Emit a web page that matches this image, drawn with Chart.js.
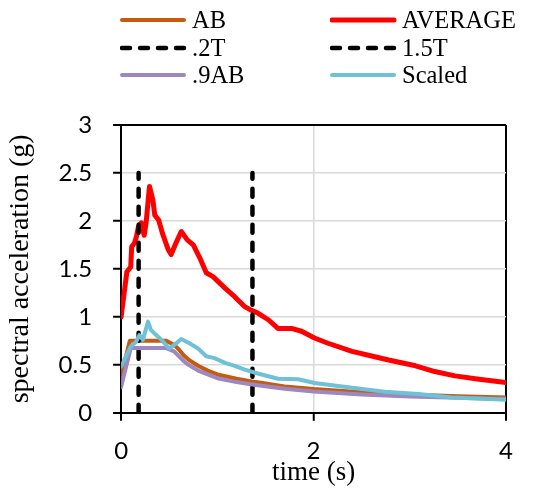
<!DOCTYPE html>
<html>
<head>
<meta charset="utf-8">
<script src="https://cdn.jsdelivr.net/npm/chart.js@4"></script>
<style>
  html, body { margin: 0; padding: 0; background: #fff; }
  #wrap { position: relative; width: 554px; height: 489px; }
  #surveyChart { position: absolute; left: 0; top: 0; }
  .leg { position: absolute; font-family: "Liberation Serif", serif; font-size: 24.5px; color: #000; line-height: 26px; white-space: nowrap; }
  .leg svg { position: absolute; left: 0; top: 0; }
  .leg span { position: absolute; top: 0; }
</style>
</head>
<body>
<div id="wrap">
  <canvas id="surveyChart" width="554" height="489"></canvas>
  <div id="legend"></div>
</div>
<script>
// periods (s) and spectral accelerations (g)
const abT = [0, 0.09, 0.47, 0.55, 0.6, 0.65, 0.7, 0.8, 0.9, 1.0, 1.2, 1.4, 1.7, 2.0, 2.5, 3.0, 3.5, 4.0];
const abSa = [0.38, 0.75, 0.75, 0.71, 0.66, 0.60, 0.555, 0.49, 0.44, 0.40, 0.355, 0.32, 0.275, 0.247, 0.213, 0.19, 0.173, 0.16];

const ab9T = [0, 0.1, 0.47, 0.55, 0.6, 0.65, 0.7, 0.8, 0.9, 1.0, 1.2, 1.4, 1.7, 2.0, 2.5, 3.0, 3.5, 4.0];
const ab9Sa = [0.27, 0.675, 0.675, 0.64, 0.59, 0.54, 0.50, 0.44, 0.40, 0.36, 0.32, 0.29, 0.25, 0.222, 0.192, 0.171, 0.156, 0.145];

const avgT = [0, 0.06, 0.1, 0.11, 0.14, 0.16, 0.18, 0.21, 0.24, 0.26, 0.295, 0.33, 0.35, 0.39, 0.43, 0.49, 0.52, 0.57, 0.625, 0.69, 0.75, 0.82, 0.885, 0.955, 1.08, 1.18, 1.28, 1.35, 1.42, 1.53, 1.63, 1.77, 1.875, 2.01, 2.15, 2.4, 2.57, 2.78, 3.06, 3.26, 3.47, 3.72, 4.0];
const avgSa = [1.0, 1.47, 1.52, 1.73, 1.77, 1.84, 1.94, 1.98, 1.85, 1.98, 2.36, 2.22, 2.06, 2.01, 1.87, 1.70, 1.65, 1.77, 1.89, 1.80, 1.75, 1.61, 1.46, 1.42, 1.30, 1.21, 1.11, 1.07, 1.04, 0.97, 0.88, 0.88, 0.85, 0.78, 0.725, 0.64, 0.60, 0.55, 0.49, 0.43, 0.385, 0.35, 0.315];

const scaledT = [0, 0.05, 0.1, 0.156, 0.19, 0.226, 0.28, 0.31, 0.365, 0.42, 0.5, 0.555, 0.625, 0.71, 0.8, 0.885, 0.97, 1.08, 1.18, 1.285, 1.42, 1.63, 1.84, 2.01, 2.4, 2.74, 3.09, 3.44, 4.0];
const scaledSa = [0.48, 0.59, 0.69, 0.74, 0.81, 0.76, 0.95, 0.865, 0.81, 0.76, 0.67, 0.71, 0.77, 0.725, 0.67, 0.59, 0.57, 0.52, 0.49, 0.45, 0.41, 0.355, 0.35, 0.31, 0.26, 0.22, 0.195, 0.16, 0.135];

const markT = [0.182, 1.365];   // .2T and 1.5T
const markSa = [0, 2.5];

const yTicks = [0, 0.5, 1, 1.5, 2, 2.5, 3];
const xTicks = [0, 2, 4];

const pts = (xs, ys) => xs.map((x, i) => ({ x: x, y: ys[i] }));

const series = [
  { label: 'AB', data: pts(abT, abSa), color: '#C55A11', width: 4, order: 6 },
  { label: 'AVERAGE', data: pts(avgT, avgSa), color: '#FF0000', width: 5, order: 5 },
  { label: '.2T', data: pts([markT[0], markT[0]], markSa), color: '#000000', width: 4.5, dash: [8, 10], order: 4 },
  { label: '1.5T', data: pts([markT[1], markT[1]], markSa), color: '#000000', width: 4.5, dash: [8, 10], order: 3 },
  { label: '.9AB', data: pts(ab9T, ab9Sa), color: '#9E88C0', width: 4, order: 2 },
  { label: 'Scaled', data: pts(scaledT, scaledSa), color: '#6EC1D6', width: 4, order: 1 }
];

// html legend, two columns
const legend = document.getElementById('legend');
const cols = [120, 330];
const rows = [20, 48, 75];
series.forEach((s, i) => {
  const div = document.createElement('div');
  div.className = 'leg';
  div.style.left = cols[i % 2] + 'px';
  div.style.top = (rows[Math.floor(i / 2)] - 13) + 'px';
  const dash = s.dash ? ' stroke-dasharray="' + s.dash.join(' ') + '"' : '';
  div.innerHTML = '<svg width="70" height="26"><line x1="2" y1="13" x2="64" y2="13" stroke="' + s.color +
    '" stroke-width="' + s.width + '" stroke-linecap="round"' + dash + '/></svg><span style="left:72px">' + s.label + '</span>';
  legend.appendChild(div);
});

const ctx = document.getElementById('surveyChart').getContext('2d');

new Chart(ctx, {
  type: 'scatter',
  data: {
    datasets: series.map(s => ({
      label: s.label,
      data: s.data,
      showLine: true,
      borderColor: s.color,
      backgroundColor: s.color,
      borderWidth: s.width,
      borderDash: s.dash || [],
      borderCapStyle: 'round',
      borderJoinStyle: 'round',
      pointRadius: 0,
      tension: 0,
      order: s.order
    }))
  },
  options: {
    responsive: false,
    animation: false,
    layout: { padding: { top: 125, right: 48, bottom: 0, left: 0 } },
    plugins: {
      legend: { display: false },
      tooltip: { enabled: false }
    },
    scales: {
      x: {
        type: 'linear',
        min: 0,
        max: 4,
        afterBuildTicks: axis => { axis.ticks = xTicks.map(v => ({ value: v })); },
        ticks: { color: '#000', font: { family: 'Lato', size: 24 }, padding: 16, callback: v => String(v) },
        grid: {
          color: c => (c.tick && (c.tick.value === 4 || c.tick.value === 0) ? '#000' : '#d9d9d9'),
          lineWidth: c => (c.tick && (c.tick.value === 4 || c.tick.value === 0) ? 2 : 1.5),
          tickColor: '#000',
          tickLength: 8,
          tickWidth: 2
        },
        border: { color: '#000', width: 2 },
        title: {
          display: true,
          text: 'time (s)',
          color: '#000',
          font: { family: 'Liberation Serif', size: 27 },
          padding: { top: -25, bottom: 0 }
        }
      },
      y: {
        min: 0,
        max: 3,
        afterBuildTicks: axis => { axis.ticks = yTicks.map(v => ({ value: v })); },
        ticks: { color: '#000', font: { family: 'Lato', size: 24 }, padding: 21, callback: v => String(v) },
        grid: {
          color: c => (c.tick && (c.tick.value === 3 || c.tick.value === 0) ? '#000' : '#d9d9d9'),
          lineWidth: c => (c.tick && (c.tick.value === 3 || c.tick.value === 0) ? 2 : 1.5),
          tickColor: '#000',
          tickLength: 8,
          tickWidth: 2
        },
        border: { color: '#000', width: 2 },
        title: {
          display: true,
          text: 'spectral acceleration (g)',
          color: '#000',
          font: { family: 'Liberation Serif', size: 28 },
          padding: { top: 4, bottom: 0 }
        }
      }
    }
  }
});
</script>
</body>
</html>
